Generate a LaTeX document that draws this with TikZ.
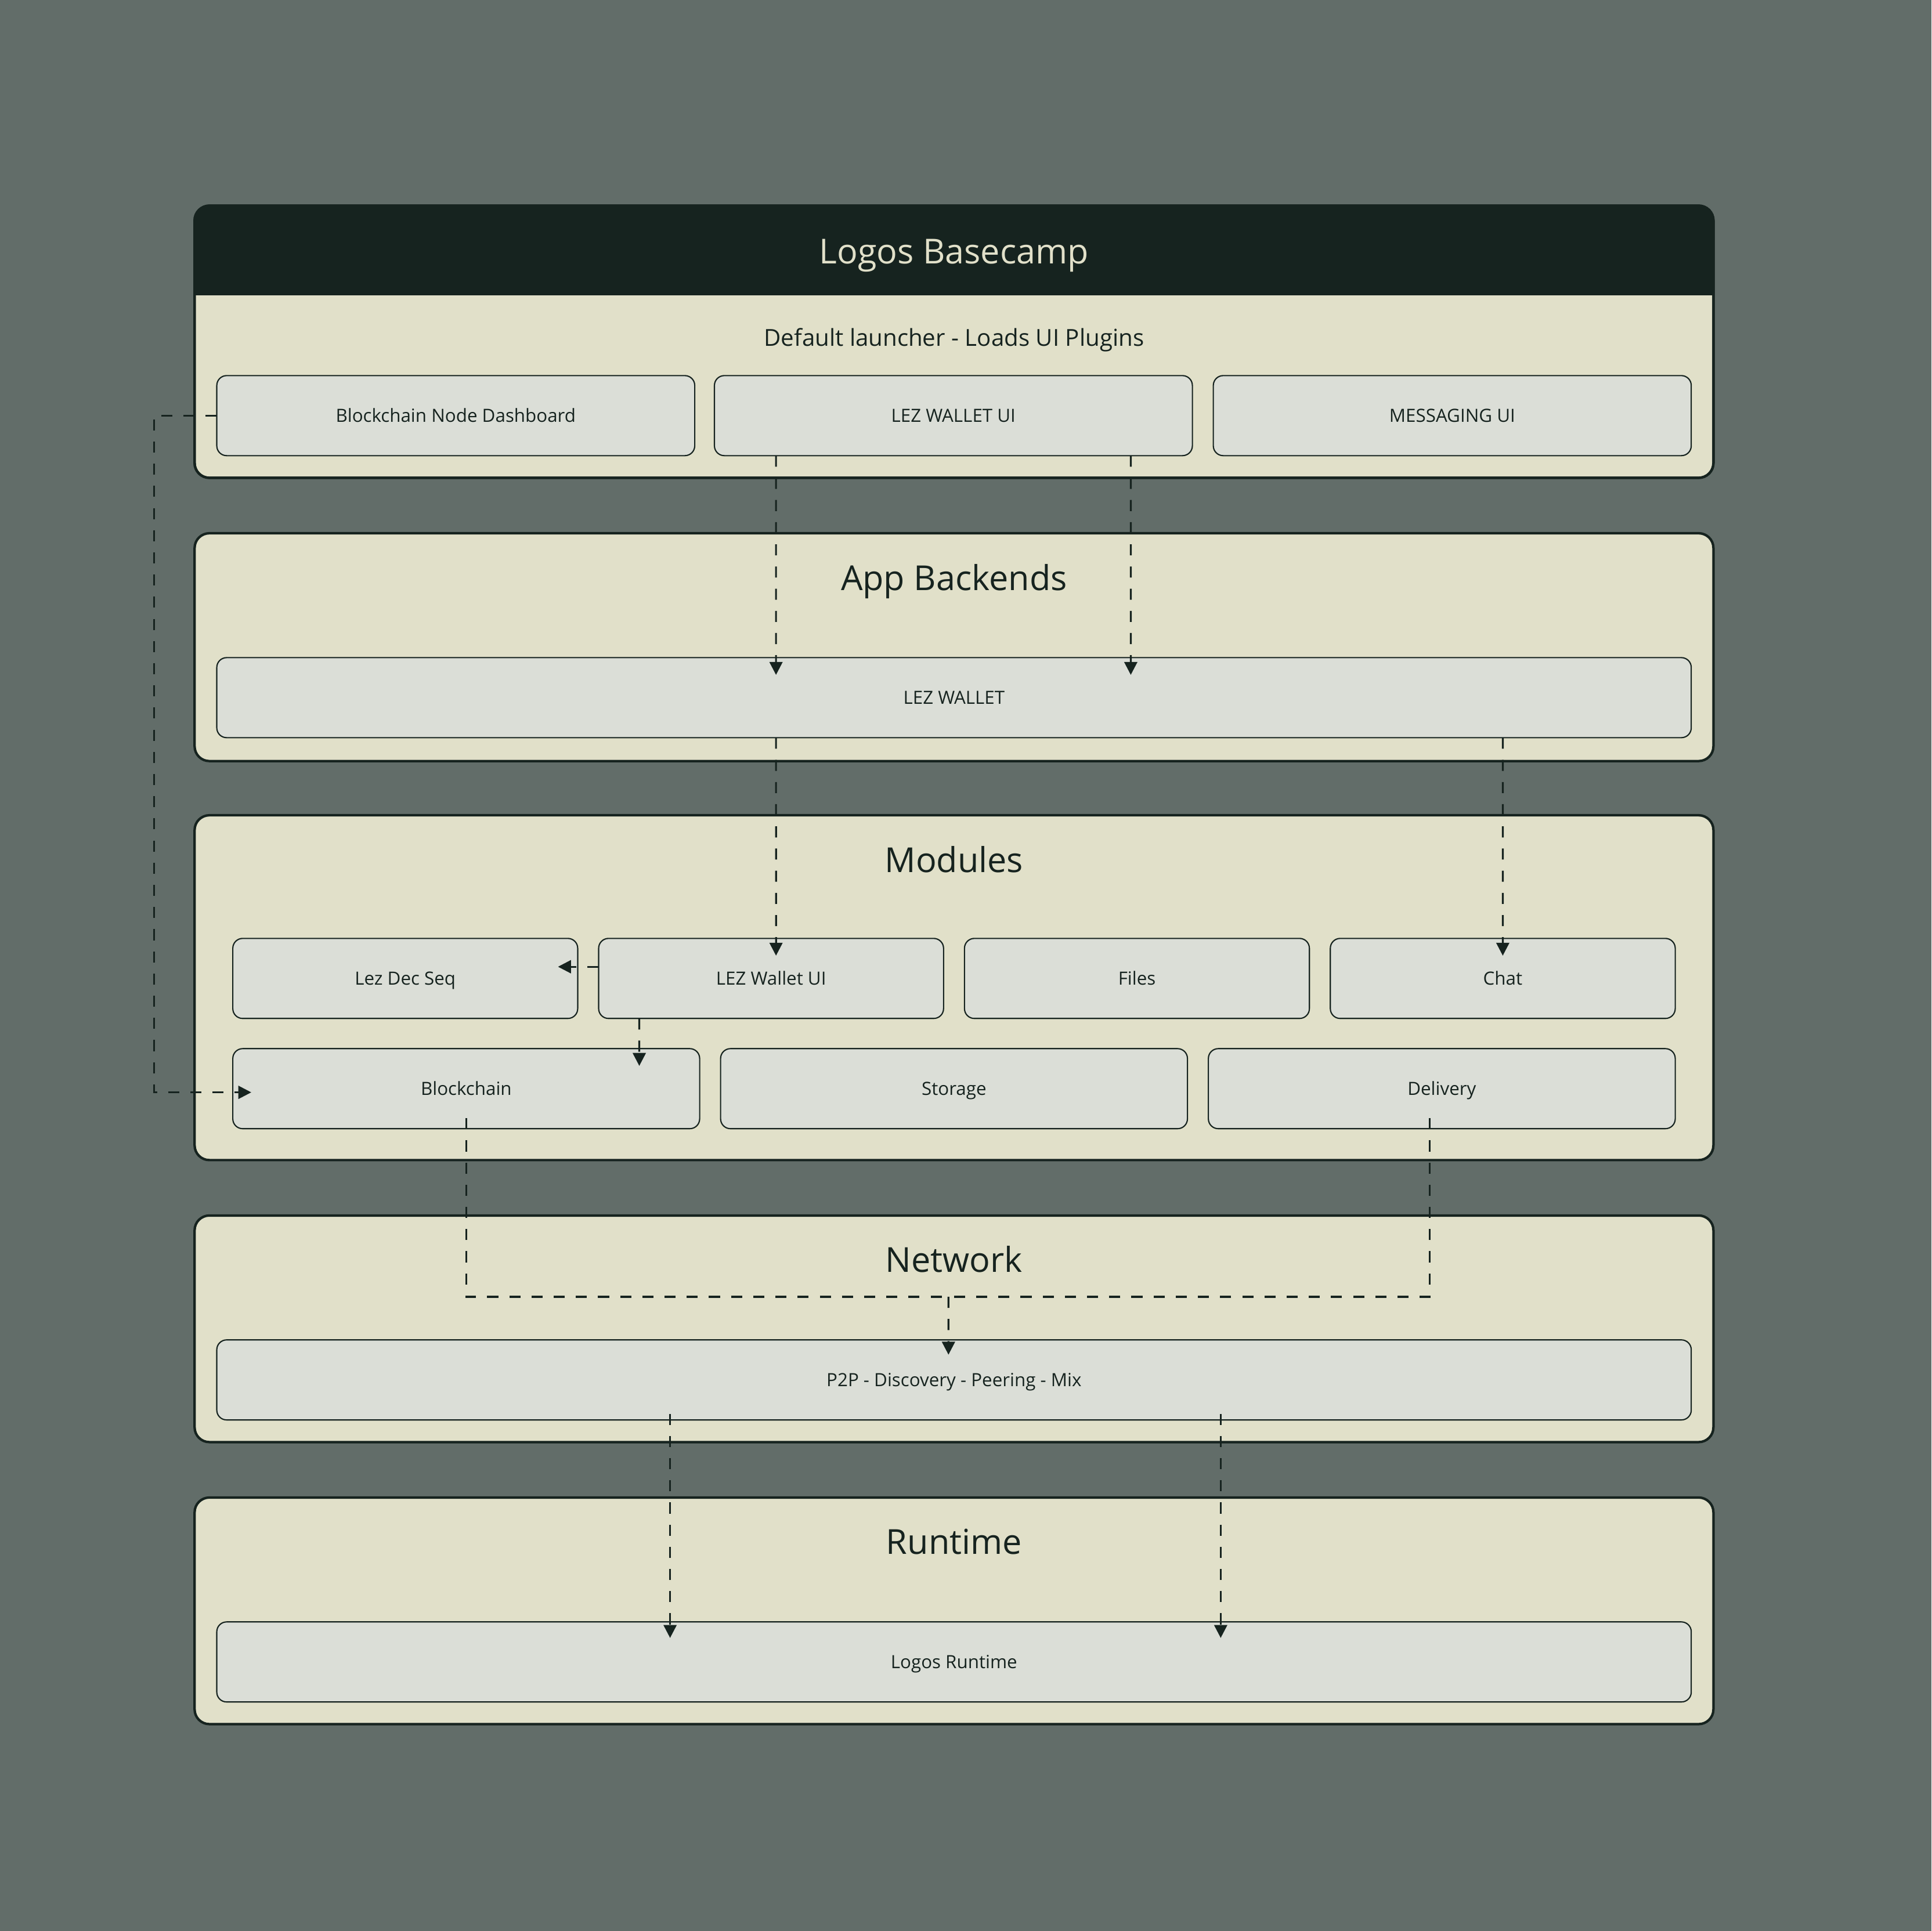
\documentclass[tikz,border=0pt]{standalone}
\usepackage{fontspec}
\setmainfont{Open Sans}
\usetikzlibrary{arrows.meta}
\definecolor{backdrop}{HTML}{626D69}
\definecolor{layerfill}{HTML}{E1E0C9}
\definecolor{boxfill}{HTML}{DBDED7}
\definecolor{ink}{HTML}{16231F}

\begin{document}
\begin{tikzpicture}[x=0.2mm, y=-0.2mm,
    layer/.style={draw=ink, line width=0.4mm, fill=layerfill, rounded corners=2.4mm, minimum width=246.6mm, inner sep=0pt, outer sep=0pt},
    label/.style={text=ink, inner sep=0pt, text depth=0pt},
    title/.style={label, text height=11.6pt, font=\fontsize{15.9}{19}\selectfont},
    part/.style={label, text height=6.1pt, draw=ink, line width=0.2mm, fill=boxfill, rounded corners=1.6mm, minimum height=13mm, outer sep=0pt, font=\fontsize{8.4}{10}\selectfont},
    link/.style={draw=ink, line width=0.3mm, dash pattern=on 1.8mm off 1.8mm},
    flow/.style={link, -{Triangle[length=2.1mm, width=2.1mm]}}]

    \fill[backdrop] (0,0) rectangle (1568,1568);

    \node[layer, minimum height=44.2mm] (basecamp) at (774.5,277.5) {};
    \begin{scope}
        \clip[rounded corners=2.4mm] (basecamp.north west) rectangle (basecamp.south east);
        \fill[ink] (basecamp.north west) rectangle ([yshift=-14.6mm]basecamp.north east);
    \end{scope}
    \draw[ink, line width=0.4mm, rounded corners=2.4mm] (basecamp.north west) rectangle (basecamp.south east);
    \node[title, text=layerfill] (basecamptitle) at (774.5,204) {Logos Basecamp};
    \node[label, text height=7.9pt, font=\fontsize{10.8}{13}\selectfont] (launcher) at (774.5,274) {Default launcher - Loads UI Plugins};
    \node[part, minimum width=77.6mm] (dash) at (370,337.5) {Blockchain Node Dashboard};
    \node[part, minimum width=77.6mm] (walletui) at (774,337.5) {LEZ WALLET UI};
    \node[part, minimum width=77.6mm] (msgui) at (1179,337.5) {MESSAGING UI};

    \node[layer, minimum height=37mm] (backends) at (774.5,525.5) {};
    \node[title] (backendstitle) at (774.5,469) {App Backends};
    \node[part, minimum width=239.4mm] (wallet) at (774.5,566.5) {LEZ WALLET};

    \node[layer, minimum height=56mm] (modules) at (774.5,802) {};
    \node[title] (modulestitle) at (774.5,698) {Modules};
    \node[part, minimum width=56mm] (lezdec) at (329,794.5) {Lez Dec Seq};
    \node[part, minimum width=56mm] (lezwui) at (626,794.5) {LEZ Wallet UI};
    \node[part, minimum width=56mm] (files) at (923,794.5) {Files};
    \node[part, minimum width=56mm] (chat) at (1220,794.5) {Chat};
    \node[part, minimum width=75.8mm] (blockchain) at (378.5,884) {Blockchain};
    \node[part, minimum width=75.8mm] (storage) at (774.5,884) {Storage};
    \node[part, minimum width=75.8mm] (delivery) at (1170.5,884) {Delivery};

    \node[layer, minimum height=36.8mm] (network) at (774.5,1079) {};
    \node[title] (networktitle) at (774.5,1023) {Network};
    \node[part, minimum width=239.4mm] (p2p) at (774.5,1120.5) {P2P - Discovery - Peering - Mix};

    \node[layer, minimum height=36.8mm] (runtime) at (774.5,1308) {};
    \node[title] (runtimetitle) at (774.5,1252) {Runtime};
    \node[part, minimum width=239.4mm] (logosrt) at (774.5,1349.5) {Logos Runtime};

    \draw[flow] ([xshift=-28.8mm]walletui.south) -- ([xshift=-28.9mm,yshift=-2.8mm]wallet.north);
    \draw[flow] ([xshift=28.8mm]walletui.south) -- ([xshift=28.7mm,yshift=-2.8mm]wallet.north);
    \draw[flow] ([xshift=-28.9mm]wallet.south) -- ([xshift=0.8mm,yshift=-2.8mm]lezwui.north);
    \draw[flow] ([xshift=89.1mm]wallet.south) -- ([yshift=-2.8mm]chat.north);
    \draw[flow] ([yshift=1.9mm]lezwui.west) -- ([xshift=-3.2mm,yshift=1.9mm]lezdec.east);
    \draw[flow] ([xshift=-21.4mm]lezwui.south) -- ([xshift=28.1mm,yshift=-2.8mm]blockchain.north);
    \draw[flow] (dash.west) -- ++(-51,0) |- ([xshift=3mm,yshift=-0.6mm]blockchain.west);

    \coordinate (hub) at (770,1053);
    \draw[link] ([yshift=-4.8mm]blockchain.center) |- (hub);
    \draw[link] ([xshift=-2mm,yshift=-4.8mm]delivery.center) |- (hub);
    \draw[flow] (hub) -- ([xshift=-0.9mm,yshift=-2.4mm]p2p.north);

    \draw[flow] ([xshift=-46.1mm,yshift=1mm]p2p.south) -- ([xshift=-46.1mm,yshift=-2.6mm]logosrt.north);
    \draw[flow] ([xshift=43.3mm,yshift=1mm]p2p.south) -- ([xshift=43.3mm,yshift=-2.6mm]logosrt.north);
\end{tikzpicture}
\end{document}
